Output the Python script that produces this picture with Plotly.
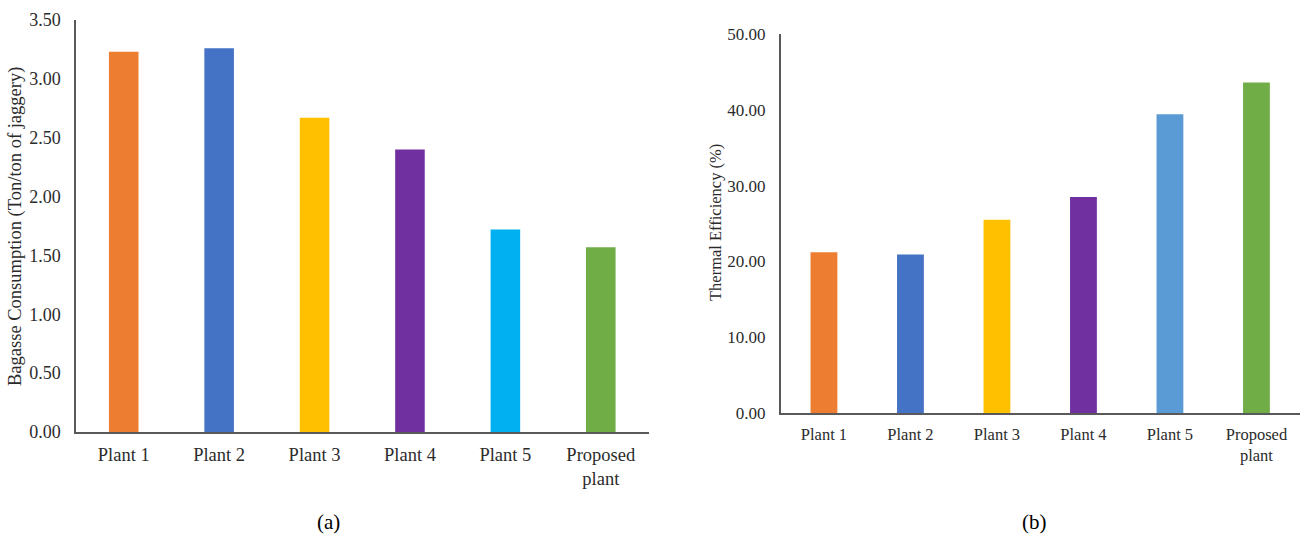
import plotly.graph_objects as go

categories = ["Plant 1", "Plant 2", "Plant 3", "Plant 4", "Plant 5", "Proposed<br>plant"]
bagasse_consumption = [3.23, 3.26, 2.67, 2.40, 1.72, 1.57]
thermal_efficiency = [21.2, 20.9, 25.5, 28.5, 39.4, 43.6]
colors_a = ["#ED7D31", "#4472C4", "#FFC000", "#7030A0", "#00B0F0", "#70AD47"]
colors_b = ["#ED7D31", "#4472C4", "#FFC000", "#7030A0", "#5B9BD5", "#70AD47"]

W, H = 1301, 537
FONT = "Liberation Serif"
TXT = "#2b2b2b"
AX = "#595959"

fig = go.Figure()
fig.add_trace(go.Bar(x=categories, y=bagasse_consumption, marker=dict(color=colors_a, line=dict(width=0)),
                     xaxis="x", yaxis="y", showlegend=False))
fig.add_trace(go.Bar(x=categories, y=thermal_efficiency, marker=dict(color=colors_b, line=dict(width=0)),
                     xaxis="x2", yaxis="y2", showlegend=False))


def px_x(p):
    return p / W


def px_y(p):
    return (H - p) / H


def xax(dom, anchor, size, standoff):
    return dict(domain=dom, anchor=anchor, showline=True, linecolor=AX, linewidth=1.5,
                showgrid=False, zeroline=False, ticks="", automargin=False,
                tickfont=dict(family=FONT, color=TXT, size=size), ticklabelstandoff=standoff)


def yax(dom, anchor, rng, dtick, size, standoff):
    return dict(domain=dom, anchor=anchor, range=rng, dtick=dtick, tickformat=".2f",
                showline=True, linecolor=AX, linewidth=1.5, showgrid=False, zeroline=False,
                ticks="", automargin=False,
                tickfont=dict(family=FONT, color=TXT, size=size), ticklabelstandoff=standoff)


fig.update_layout(
    width=W, height=H,
    margin=dict(l=0, r=0, t=0, b=0, pad=0, autoexpand=False),
    paper_bgcolor="white", plot_bgcolor="white",
    bargap=0.69,
    font=dict(family=FONT, color=TXT),
    xaxis=xax([px_x(76), px_x(648.5)], "y", 18.5, 5),
    yaxis=yax([px_y(432), px_y(20)], "x", [0, 3.5], 0.5, 18, 10),
    xaxis2=xax([px_x(780.7), px_x(1299.7)], "y2", 16.5, 5),
    yaxis2=yax([px_y(413), px_y(34)], "x2", [0, 50], 10, 17, 10),
)

ann = dict(xref="paper", yref="paper", showarrow=False, xanchor="center", yanchor="middle")
fig.add_annotation(text="Bagasse Consumption (Ton/ton of jaggery)", textangle=-90, x=px_x(15), y=px_y(227),
                   font=dict(family=FONT, size=18.5, color=TXT), **ann)
fig.add_annotation(text="Thermal Efficiency (%)", textangle=-90, x=px_x(716), y=px_y(223),
                   font=dict(family=FONT, size=16.5, color=TXT), **ann)
fig.add_annotation(text="(a)", x=px_x(328), y=px_y(522), font=dict(family=FONT, size=21, color="#000000"), **ann)
fig.add_annotation(text="(b)", x=px_x(1034), y=px_y(522), font=dict(family=FONT, size=21, color="#000000"), **ann)

fig.write_html("out.html", config={"displayModeBar": False},
               post_script="document.body.style.margin='0';document.body.style.overflow='hidden';")
